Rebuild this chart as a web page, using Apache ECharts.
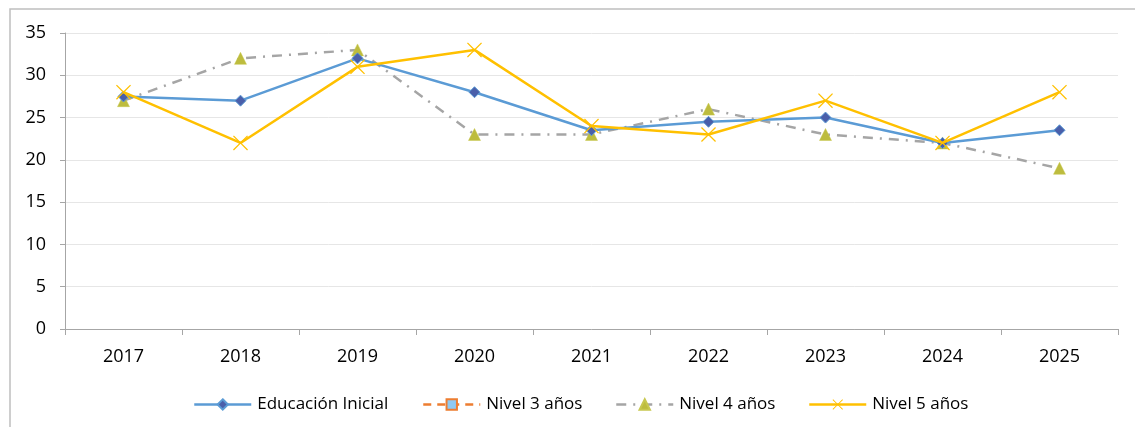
<!DOCTYPE html>
<html>
<head>
<meta charset="utf-8">
<script src="https://cdn.jsdelivr.net/npm/echarts@6/dist/echarts.min.js"></script>
<style>
html,body{margin:0;padding:0;background:#fff;}
#chart{width:1135px;height:427px;}
</style>
</head>
<body>
<div id="chart"></div>
<script>
const years = ['2017','2018','2019','2020','2021','2022','2023','2024','2025'];
const educacionInicial = [27.5, 27, 32, 28, 23.5, 24.5, 25, 22, 23.5];
const nivel3 = [null, null, null, null, null, null, null, null, null];
const nivel4 = [27, 32, 33, 23, 23, 26, 23, 22, 19];
const nivel5 = [28, 22, 31, 33, 24, 23, 27, 22, 28];
const seriesNames = ['Educación Inicial', 'Nivel 3 años', 'Nivel 4 años', 'Nivel 5 años'];

const FONT = '"Open Sans", "Liberation Sans", sans-serif';
const xPath = 'path://M0,1.2L1.2,0L10,8.8L18.8,0L20,1.2L11.2,10L20,18.8L18.8,20L10,11.2L1.2,20L0,18.8L8.8,10Z';

const chart = echarts.init(document.getElementById('chart'), null, {renderer: 'canvas'});

const legendLefts = [193, 422, 615, 808];
const legends = seriesNames.map((n, i) => ({
  data: [n],
  left: legendLefts[i],
  top: 396,
  padding: 0,
  itemWidth: 57,
  itemHeight: 13,
  itemGap: 0,
  selectedMode: false,
  lineStyle: {width: 2.5},
  textStyle: {fontFamily: FONT, fontSize: 17, color: '#000', padding: [0, 0, 0, 1]}
}));

chart.setOption({
  animation: false,
  backgroundColor: '#fff',
  graphic: [{
    type: 'rect',
    shape: {x: 10, y: 9, width: 1300, height: 600},
    style: {fill: 'none', stroke: '#BFBFBF', lineWidth: 1.5},
    silent: true,
    z: -10
  }],
  grid: {left: 65, right: 17, top: 33, bottom: 98, containLabel: false},
  legend: legends,
  xAxis: {
    type: 'category',
    data: years,
    boundaryGap: true,
    axisLine: {lineStyle: {color: '#A6A6A6', width: 1}},
    axisTick: {show: true, alignWithLabel: false, length: 6, lineStyle: {color: '#A6A6A6'}},
    axisLabel: {fontFamily: FONT, fontSize: 18, color: '#000', margin: 19}
  },
  yAxis: {
    type: 'value',
    min: 0, max: 35, interval: 5,
    axisLine: {show: true, lineStyle: {color: '#A6A6A6', width: 1}},
    axisTick: {show: true, length: 5, lineStyle: {color: '#A6A6A6'}},
    splitLine: {lineStyle: {color: '#E6E6E6', width: 1}},
    axisLabel: {fontFamily: FONT, fontSize: 18, color: '#000', margin: 19}
  },
  series: [
    {
      name: seriesNames[0], type: 'line', data: educacionInicial,
      symbol: 'diamond', symbolSize: 11,
      lineStyle: {color: '#5B9BD5', width: 2.5},
      itemStyle: {color: '#4A5FAA', borderColor: '#5B9BD5', borderWidth: 1},
      z: 3
    },
    {
      name: seriesNames[1], type: 'line', data: nivel3,
      symbol: 'rect', symbolSize: 10,
      lineStyle: {color: '#ED7D31', width: 2.5, type: [8, 6]},
      itemStyle: {color: '#8FC9F2', borderColor: '#ED7D31', borderWidth: 1},
      z: 2
    },
    {
      name: seriesNames[2], type: 'line', data: nivel4,
      symbol: 'triangle', symbolSize: 12,
      lineStyle: {color: '#A5A5A5', width: 2.5, type: [10, 7, 2, 7]},
      itemStyle: {color: '#BDBC3E', borderColor: '#C8C850', borderWidth: 0.5},
      z: 2
    },
    {
      name: seriesNames[3], type: 'line', data: nivel5,
      symbol: xPath, symbolSize: 15,
      lineStyle: {color: '#FFC000', width: 2.5},
      itemStyle: {color: '#FFC000'},
      z: 4
    }
  ]
});
</script>
</body>
</html>
